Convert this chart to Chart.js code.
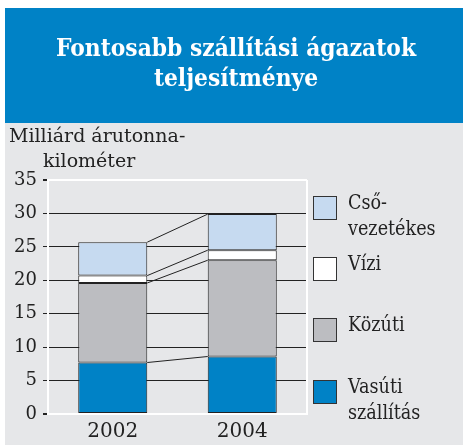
<!DOCTYPE html>
<html lang="hu">
<head>
    <meta charset="UTF-8">
    <title>Fontosabb szállítási ágazatok teljesítménye</title>
    <script src="https://cdn.jsdelivr.net/npm/chart.js"></script>
    <style>
        html, body { margin: 0; padding: 0; background: #fff; }
        #doboz { position: absolute; left: 0; top: 0; width: 463px; height: 446px; }
    </style>
</head>
<body>
    <div id="doboz"><canvas id="grafikon"></canvas></div>

    <script>
        // adatok (milliárd árutonna-kilométer)
        const evek = ['2002', '2004'];
        const vasuti = [7.7, 8.6];
        const kozuti = [11.9, 14.4];
        const vizi = [1.1, 1.5];
        const csovezetekes = [5.0, 5.4];

        const cim = ['Fontosabb szállítási ágazatok', 'teljesítménye'];
        const tengelyCim = ['Milliárd árutonna-', 'kilométer'];

        const kek = '#0082C6';
        const betu = '"DejaVu Serif", serif';

        // jelmagyarázat a saját helyén, felülről lefelé
        const jelmagyarazat = [
            { szoveg: ['Cső-', 'vezetékes'], szin: '#C6DAF0', y: 196 },
            { szoveg: ['Vízi'], szin: '#FFFFFF', y: 257 },
            { szoveg: ['Közúti'], szin: '#BCBDC1', y: 318 },
            { szoveg: ['Vasúti', 'szállítás'], szin: kek, y: 380 }
        ];

        // kicsit keskenyebb betű, mint az eredeti
        function irj(c, s, x, y, sx) {
            c.save();
            c.translate(x, y);
            c.scale(sx, 1);
            c.fillText(s, 0, 0);
            c.restore();
        }

        const dekor = {
            id: 'dekor',
            beforeDraw(chart) {
                const c = chart.ctx;
                c.save();
                c.fillStyle = '#fff';
                c.fillRect(0, 0, chart.width, chart.height);
                c.fillStyle = '#E6E7E9';
                c.fillRect(5, 8, 458, 437);
                c.fillStyle = kek;
                c.fillRect(5, 8, 458, 115);

                c.fillStyle = '#fff';
                c.font = 'bold 24px ' + betu;
                c.textAlign = 'center';
                c.textBaseline = 'alphabetic';
                irj(c, cim[0], 236, 56, 0.91);
                irj(c, cim[1], 236, 86, 0.91);

                c.fillStyle = '#222';
                c.font = '19px ' + betu;
                c.textAlign = 'left';
                irj(c, tengelyCim[0], 9, 142, 1.0);
                irj(c, tengelyCim[1], 43, 167, 1.0);
                c.restore();
            },
            beforeDatasetsDraw(chart) {
                const c = chart.ctx;
                const a = chart.chartArea;
                c.save();
                c.strokeStyle = '#fff';
                c.lineWidth = 2;
                c.beginPath();
                c.moveTo(a.right, a.top);
                c.lineTo(a.right, a.bottom);
                c.stroke();
                c.restore();
            },
            afterDatasetsDraw(chart) {
                // összekötő vonalak a két oszlop között
                const c = chart.ctx;
                c.save();
                c.strokeStyle = '#222';
                c.lineWidth = 1;
                chart.data.datasets.forEach((ds, i) => {
                    const m = chart.getDatasetMeta(i);
                    const p = m.data[0], q = m.data[1];
                    c.beginPath();
                    c.moveTo(p.x + p.width / 2, p.y);
                    c.lineTo(q.x - q.width / 2, q.y);
                    c.stroke();
                });
                c.restore();
            },
            afterDraw(chart) {
                const c = chart.ctx;
                c.save();
                c.font = '20px ' + betu;
                c.textAlign = 'left';
                c.textBaseline = 'alphabetic';
                jelmagyarazat.forEach(j => {
                    c.fillStyle = j.szin;
                    c.fillRect(313.5, j.y + 0.5, 23, 23);
                    c.strokeStyle = '#333';
                    c.lineWidth = 1;
                    c.strokeRect(313.5, j.y + 0.5, 23, 23);
                    c.fillStyle = '#222';
                    j.szoveg.forEach((s, k) => {
                        irj(c, s, 348, j.y + 13 + k * 26, 0.88);
                    });
                });
                c.restore();
            }
        };

        Chart.defaults.font.family = betu;
        Chart.defaults.color = '#222';

        new Chart(document.getElementById('grafikon'), {
            type: 'bar',
            data: {
                labels: evek,
                datasets: [
                    { label: 'Vasúti szállítás', data: vasuti, backgroundColor: kek },
                    { label: 'Közúti', data: kozuti, backgroundColor: '#BCBDC1' },
                    { label: 'Vízi', data: vizi, backgroundColor: '#FFFFFF' },
                    { label: 'Csővezetékes', data: csovezetekes, backgroundColor: '#C6DAF0' }
                ].map(d => Object.assign(d, {
                    borderColor: '#222',
                    borderWidth: 1,
                    borderSkipped: false,
                    categoryPercentage: 1,
                    barPercentage: 0.533
                }))
            },
            options: {
                responsive: true,
                maintainAspectRatio: false,
                animation: false,
                layout: { padding: { top: 180, right: 156, left: 0, bottom: 0 } },
                plugins: {
                    legend: { display: false },
                    tooltip: { enabled: false }
                },
                scales: {
                    x: {
                        stacked: true,
                        grid: { display: false },
                        border: { display: true, color: '#fff', width: 2 },
                        ticks: { font: { size: 20, lineHeight: 1 }, padding: 0, color: '#222' },
                        afterFit(s) { s.height = 32; }
                    },
                    y: {
                        stacked: true,
                        min: 0,
                        max: 35,
                        ticks: { stepSize: 5, font: { size: 18 }, padding: 6, color: '#222' },
                        grid: {
                            color: ctx => (ctx.tick && (ctx.tick.value === 0 || ctx.tick.value === 35)) ? '#fff' : '#222',
                            lineWidth: ctx => (ctx.tick && (ctx.tick.value === 0 || ctx.tick.value === 35)) ? 2 : 1,
                            tickColor: '#222',
                            tickLength: 5
                        },
                        border: { display: true, color: '#fff', width: 2 },
                        afterFit(s) { s.width = 48; }
                    }
                }
            },
            plugins: [dekor]
        });
    </script>
</body>
</html>
